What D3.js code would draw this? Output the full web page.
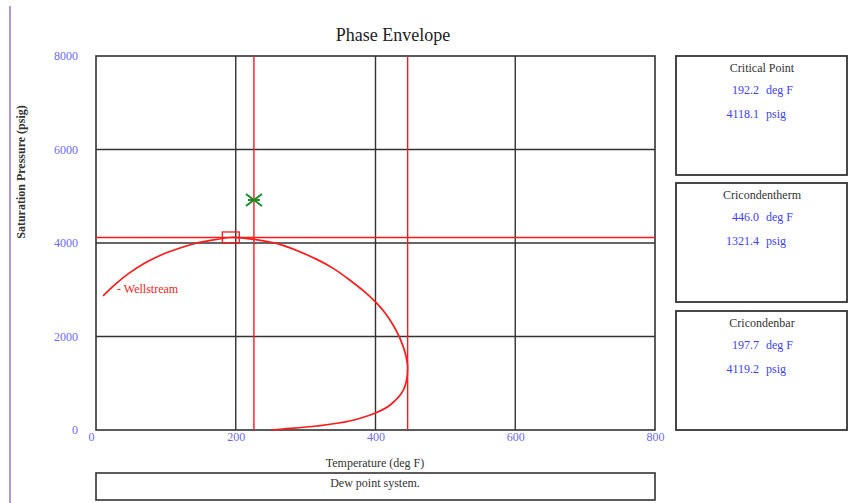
<!DOCTYPE html>
<html>
<head>
<meta charset="utf-8">
<script src="https://cdn.jsdelivr.net/npm/d3@7"></script>
<style>
  html, body { margin: 0; padding: 0; background: #fff; }
  svg { display: block; font-family: "Liberation Serif", "Times New Roman", serif; }
</style>
</head>
<body>
<svg id="chart" width="860" height="503"></svg>
<script>
// Phase envelope of the wellstream (deg F, psig)
const envelopeTemp  = [10, 27, 46, 70, 94, 118, 142, 166, 192.2, 197.7, 220, 263, 316, 340, 363, 387, 401, 414, 426, 435, 442, 446.0, 440, 421, 399, 363, 316, 268, 251];
const envelopePress = [2866, 3110, 3339, 3570, 3748, 3882, 3989, 4060, 4118.1, 4119.2, 4090, 3972, 3650, 3452, 3209, 2924, 2723, 2496, 2225, 1961, 1675, 1321.4, 856, 535, 357, 193, 86, 21, 0];

// Key points
const criticalPoint    = [192.2, 4118.1];
const cricondentherm   = [446.0, 1321.4];
const cricondenbar     = [197.7, 4119.2];
const reservoirPoint   = [226, 4920];

// Axis ticks
const xTicks = [0, 200, 400, 600, 800];
const yTicks = [0, 2000, 4000, 6000, 8000];
const gridX  = [200, 400, 600];
const gridY  = [2000, 4000, 6000];

// Info panels
const panelTitles = ["Critical Point", "Cricondentherm", "Cricondenbar"];
const panelTemps  = ["192.2", "446.0", "197.7"];
const panelPress  = ["4118.1", "1321.4", "4119.2"];

const svg = d3.select("#chart");
const plotL = 96, plotR = 655, plotT = 56, plotB = 430;

const x = d3.scaleLinear().domain([0, 800]).range([plotL, plotR]);
const y = d3.scaleLinear().domain([0, 8000]).range([plotB, plotT]);

// page margin rule
svg.append("line").attr("x1", 10).attr("x2", 10).attr("y1", 6).attr("y2", 503)
  .attr("stroke", "#9b6fd6").attr("stroke-width", 1.5);

// title
svg.append("text").attr("x", 393).attr("y", 41).attr("text-anchor", "middle")
  .attr("font-size", 18).attr("fill", "#222").text("Phase Envelope");

// grid
const grid = svg.append("g").attr("stroke", "#333").attr("stroke-width", 1.4);
grid.selectAll(".gx").data(gridX).join("line")
  .attr("x1", d => x(d)).attr("x2", d => x(d)).attr("y1", plotT).attr("y2", plotB);
grid.selectAll(".gy").data(gridY).join("line")
  .attr("y1", d => y(d)).attr("y2", d => y(d)).attr("x1", plotL).attr("x2", plotR);

// frame
svg.append("rect").attr("x", plotL).attr("y", plotT).attr("width", plotR - plotL).attr("height", plotB - plotT)
  .attr("fill", "none").attr("stroke", "#333").attr("stroke-width", 1.6);

// axes
const yAxis = svg.append("g").attr("transform", `translate(${plotL - 18},0)`)
  .call(d3.axisLeft(y).tickValues(yTicks).tickSize(0).tickPadding(0).tickFormat(d3.format("d")));
yAxis.select(".domain").remove();
yAxis.selectAll("text").attr("font-family", "Liberation Serif, serif").attr("font-size", 12).attr("fill", "#6b6bff");

const xAxis = svg.append("g").attr("transform", `translate(0,${plotB + 2})`)
  .call(d3.axisBottom(x).tickValues(xTicks).tickSize(0).tickPadding(0).tickFormat(d3.format("d")));
xAxis.select(".domain").remove();
xAxis.selectAll("text").attr("font-family", "Liberation Serif, serif").attr("font-size", 12).attr("fill", "#6b6bff");
xAxis.selectAll(".tick").filter(d => d === 0).select("text").attr("dx", -5);

// axis titles
svg.append("text").attr("transform", "translate(25,172) rotate(-90)").attr("text-anchor", "middle")
  .attr("font-size", 12).attr("font-weight", "bold").attr("fill", "#333").text("Saturation Pressure (psig)");
svg.append("text").attr("x", 375).attr("y", 467).attr("text-anchor", "middle")
  .attr("font-size", 12).attr("fill", "#333").text("Temperature (deg F)");

// status box
svg.append("rect").attr("x", plotL).attr("y", 473).attr("width", plotR - plotL).attr("height", 27)
  .attr("fill", "none").attr("stroke", "#333").attr("stroke-width", 1.6);
svg.append("text").attr("x", 375).attr("y", 487).attr("text-anchor", "middle")
  .attr("font-size", 12).attr("fill", "#333").text("Dew point system.");

// reference lines: reservoir temperature, cricondentherm, cricondenbar
const red = "#ff1a1a";
svg.append("line").attr("x1", x(reservoirPoint[0])).attr("x2", x(reservoirPoint[0]))
  .attr("y1", plotT).attr("y2", plotB).attr("stroke", red).attr("stroke-width", 1.4);
svg.append("line").attr("x1", x(cricondentherm[0])).attr("x2", x(cricondentherm[0]))
  .attr("y1", plotT).attr("y2", plotB).attr("stroke", red).attr("stroke-width", 1.4);
svg.append("line").attr("x1", plotL).attr("x2", plotR)
  .attr("y1", y(cricondenbar[1])).attr("y2", y(cricondenbar[1])).attr("stroke", red).attr("stroke-width", 1.4);

// envelope curve
const pts = envelopeTemp.map((t, i) => [t, envelopePress[i]]);
const line = d3.line().x(d => x(d[0])).y(d => y(d[1])).curve(d3.curveCatmullRom.alpha(0.5));
svg.append("path").datum(pts).attr("d", line)
  .attr("fill", "none").attr("stroke", red).attr("stroke-width", 1.7);

// critical point marker
svg.append("rect").attr("x", x(criticalPoint[0]) - 8).attr("y", y(criticalPoint[1]) - 5.5)
  .attr("width", 17).attr("height", 11).attr("fill", "none").attr("stroke", red).attr("stroke-width", 1.3);

// reservoir condition marker
const rx = x(reservoirPoint[0]), ry = y(reservoirPoint[1]);
const g = svg.append("g").attr("stroke", "#1e8a2a").attr("stroke-width", 2).attr("fill", "none");
g.append("path").attr("d", `M${rx - 8},${ry - 6} L${rx},${ry} L${rx - 8},${ry + 6}`);
g.append("path").attr("d", `M${rx + 8},${ry - 6} L${rx},${ry} L${rx + 8},${ry + 6}`);
g.append("line").attr("x1", rx - 6).attr("x2", rx + 6).attr("y1", ry).attr("y2", ry);

// series label
svg.append("text").attr("x", 117).attr("y", 293).attr("font-size", 12).attr("fill", red).text("- Wellstream");

// info panels
const panelTop = [56, 183, 311];
panelTitles.forEach((title, i) => {
  const py = panelTop[i];
  svg.append("rect").attr("x", 676).attr("y", py).attr("width", 171).attr("height", 119)
    .attr("fill", "none").attr("stroke", "#333").attr("stroke-width", 1.8);
  svg.append("text").attr("x", 762).attr("y", py + 16).attr("text-anchor", "middle")
    .attr("font-size", 12).attr("fill", "#333").text(title);
  svg.append("text").attr("x", 759).attr("y", py + 38).attr("text-anchor", "end")
    .attr("font-size", 12).attr("fill", "#4040ff").text(panelTemps[i]);
  svg.append("text").attr("x", 766).attr("y", py + 38)
    .attr("font-size", 12).attr("fill", "#4040ff").text("deg F");
  svg.append("text").attr("x", 759).attr("y", py + 62).attr("text-anchor", "end")
    .attr("font-size", 12).attr("fill", "#4040ff").text(panelPress[i]);
  svg.append("text").attr("x", 766).attr("y", py + 62)
    .attr("font-size", 12).attr("fill", "#4040ff").text("psig");
});
</script>
</body>
</html>
